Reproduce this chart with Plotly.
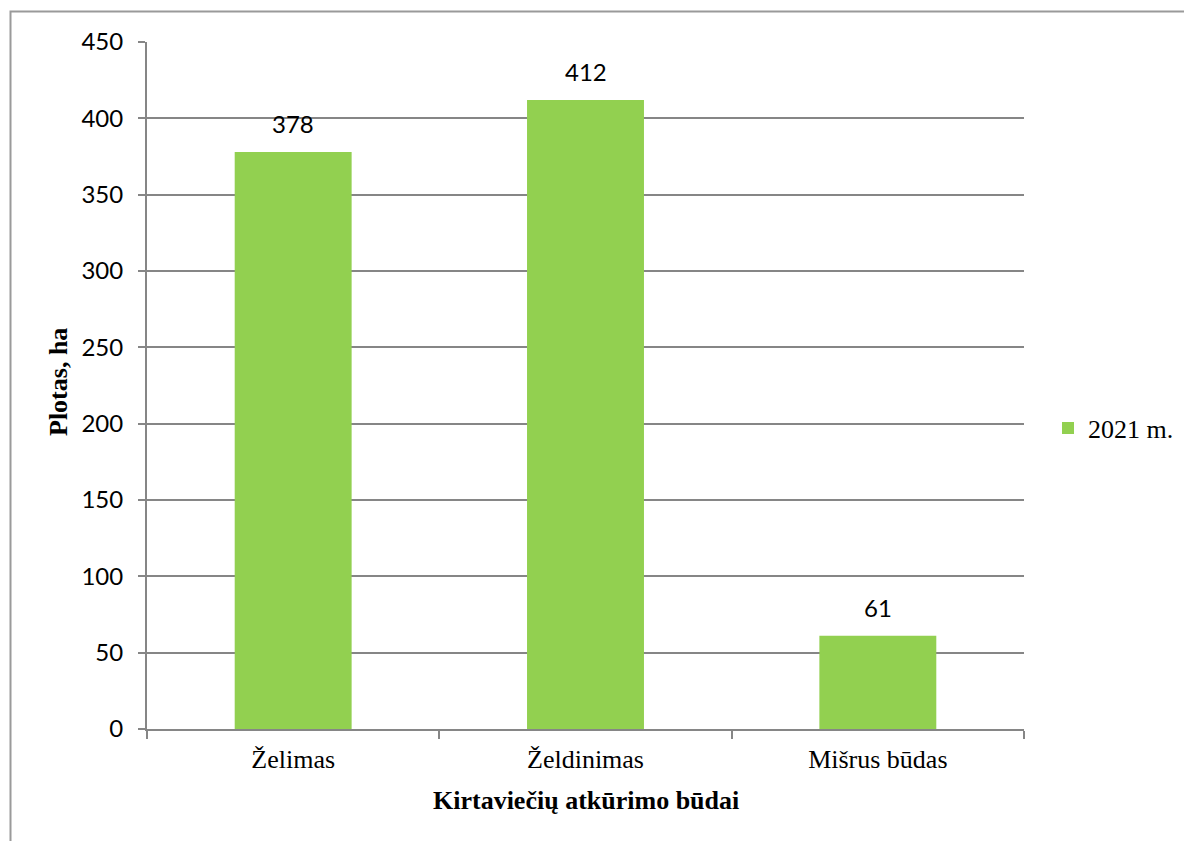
import plotly.graph_objects as go

categories = ["Želimas", "Želdinimas", "Mišrus būdas"]
values = [378, 412, 61]
series_name = "2021 m."
y_ticks = [0, 50, 100, 150, 200, 250, 300, 350, 400, 450]

# page body has an 8px default margin; figure is sized to fit the window
OFF = 8
W, H = 1192 - OFF, 841 - OFF
L, T = 147 - OFF, 42 - OFF
R = W - (1024 - OFF)
B = H - (729 - OFF)
pw = W - L - R
ph = H - T - B

bar_color = "#92D050"
axis_color = "#868686"
sans = "Lato, 'Open Sans', sans-serif"
serif = "'Liberation Serif', 'Times New Roman', serif"

fig = go.Figure()
fig.add_trace(go.Bar(
    x=categories, y=values, name=series_name,
    marker=dict(color=bar_color, line=dict(width=0)),
    showlegend=True,
))

annotations = []
for c, v in zip(categories, values):
    annotations.append(dict(
        x=c, y=v, xref="x", yref="y", text=str(v), showarrow=False,
        yanchor="bottom", yshift=12,
        font=dict(family=sans, size=24, color="#000000"),
    ))

# axis titles
annotations.append(dict(
    x=0.5, y=0, xref="paper", yref="paper", text="<b>Kirtaviečių atkūrimo būdai</b>",
    showarrow=False, yanchor="middle", yshift=-(800 - 729),
    font=dict(family=serif, size=26, color="#000000"),
))
annotations.append(dict(
    x=0, y=(729 - 382) / ph, xref="paper", yref="paper", text="<b>Plotas, ha</b>",
    showarrow=False, xanchor="center", yanchor="middle", xshift=-(147 - 58), textangle=-90,
    font=dict(family=serif, size=26, color="#000000"),
))

fig.update_layout(
    template="none",
    width=W, height=H,
    margin=dict(l=L, r=R, t=T, b=B, pad=0, autoexpand=False),
    paper_bgcolor="white", plot_bgcolor="white",
    bargap=0.6,
    annotations=annotations,
    legend=dict(
        x=(1048 - 147) / pw, y=(729 - 428) / ph, xref="paper", yref="paper",
        xanchor="left", yanchor="middle",
        font=dict(family=serif, size=26, color="#000000"),
        bgcolor="rgba(0,0,0,0)", itemwidth=30, borderwidth=0,
    ),
    xaxis=dict(
        type="category", showline=True, linecolor=axis_color, linewidth=2,
        ticks="outside", tickson="boundaries", ticklen=8, tickwidth=2, tickcolor=axis_color,
        tickfont=dict(family=serif, size=26, color="#000000"),
        showgrid=False, zeroline=False, automargin=False,
        ticklabelstandoff=6,
    ),
    yaxis=dict(
        range=[0, 450], tickmode="array", tickvals=y_ticks,
        ticktext=[str(t) for t in y_ticks],
        showline=True, linecolor=axis_color, linewidth=2,
        ticks="outside", ticklen=7, tickwidth=2, tickcolor=axis_color,
        showgrid=True, gridcolor=axis_color, gridwidth=1.5,
        zeroline=False, automargin=False,
        tickfont=dict(family=sans, size=24, color="#000000"),
        ticklabelstandoff=10,
    ),
    shapes=[dict(
        type="rect", xref="paper", yref="paper",
        x0=(10.5 - 147) / pw, x1=(1192 + 20 - 147) / pw,
        y0=(729 - (841 + 20)) / ph, y1=(729 - 11.5) / ph,
        line=dict(color="#9a9a9a", width=2), fillcolor="rgba(0,0,0,0)", layer="below",
    )],
)

fig.write_html("out.html")
